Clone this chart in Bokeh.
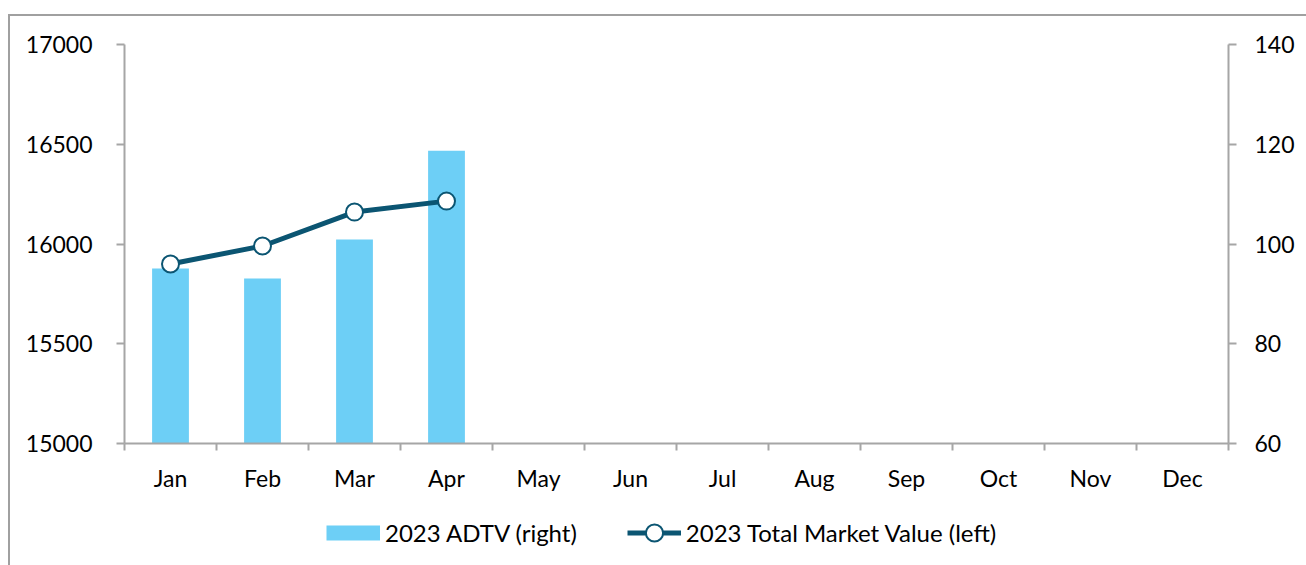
from bokeh.plotting import figure
from bokeh.layouts import column
from bokeh.models import Range1d, LinearAxis, FixedTicker, Legend, LegendItem, ColumnDataSource
from bokeh.embed import file_html
from bokeh.resources import INLINE

months = ["Jan", "Feb", "Mar", "Apr", "May", "Jun", "Jul", "Aug", "Sep", "Oct", "Nov", "Dec"]
adtv_2023 = [95.1, 93.1, 100.9, 118.7]          # right axis
market_value_2023 = [15900, 15990, 16160, 16215]  # left axis
left_ticks = [15000, 15500, 16000, 16500, 17000]
right_ticks = [60, 80, 100, 120, 140]
series_names = ["2023 ADTV (right)", "2023 Total Market Value (left)"]

FONT = "Lato"
FS = "23px"
GRID = "#a6a6a6"
BAR = "#6dcff6"
LINE = "#0b5572"

pos = list(range(1, len(months) + 1))
bar_src = ColumnDataSource(dict(x=pos[:len(adtv_2023)], top=adtv_2023))
line_src = ColumnDataSource(dict(x=pos[:len(market_value_2023)], y=market_value_2023))

W = 1296
H_MAIN = 479
H_LEG = 70

p = figure(width=W, height=H_MAIN, output_backend="svg", toolbar_location=None,
           x_range=Range1d(0.5, len(months) + 0.5), y_range=Range1d(15000, 17000),
           min_border_left=114, min_border_right=78, min_border_top=28, min_border_bottom=52,
           x_axis_type=None, y_axis_type=None)
p.outline_line_color = None
p.background_fill_color = "white"
p.border_fill_color = "white"
p.extra_y_ranges = {"right": Range1d(60, 140)}

yl = LinearAxis(ticker=FixedTicker(ticks=left_ticks))
yr = LinearAxis(y_range_name="right", ticker=FixedTicker(ticks=right_ticks))
xticker = FixedTicker(ticks=pos, minor_ticks=[i + 0.5 for i in range(0, len(months) + 1)])
xa = LinearAxis(ticker=xticker)
xa.major_label_overrides = {i: m for i, m in zip(pos, months)}
for ax in (yl, yr, xa):
    ax.axis_line_color = GRID
    ax.axis_line_width = 2
    ax.major_tick_line_color = GRID
    ax.major_tick_line_width = 2
    ax.major_tick_in = 0
    ax.major_tick_out = 8
    ax.minor_tick_line_color = None
    ax.major_label_text_font = FONT
    ax.major_label_text_font_size = FS
    ax.major_label_text_color = "black"
yl.major_label_standoff = 24
yr.major_label_standoff = 18
xa.major_tick_out = 0
xa.major_tick_line_color = None
xa.minor_tick_line_color = GRID
xa.minor_tick_line_width = 2
xa.minor_tick_in = 0
xa.minor_tick_out = 7
xa.major_label_standoff = 13
p.add_layout(yl, "left")
p.add_layout(yr, "right")
p.add_layout(xa, "below")

p.ygrid.ticker = FixedTicker(ticks=left_ticks)
p.ygrid.grid_line_color = GRID
p.ygrid.grid_line_width = 2
p.xgrid.grid_line_color = None

p.vbar(x="x", top="top", bottom=60, width=0.4, source=bar_src,
       y_range_name="right", fill_color=BAR, line_color=None)
p.line(x="x", y="y", source=line_src, line_color=LINE, line_width=5)
p.scatter(x="x", y="y", source=line_src, size=17, fill_color="white",
          line_color=LINE, line_width=2)

# legend strip (its frame is aligned with the main frame by the column layout)
lp = figure(width=W, height=H_LEG, output_backend="svg", toolbar_location=None,
            x_range=Range1d(0, 1), y_range=Range1d(0, 1),
            min_border_left=114, min_border_right=78, min_border_top=0, min_border_bottom=0,
            x_axis_type=None, y_axis_type=None)
lp.outline_line_color = None
lp.xgrid.grid_line_color = None
lp.ygrid.grid_line_color = None
# legend proxies (hidden); a thick butt-capped line renders the bar swatch
lb = lp.line(x="x", y="top", source=bar_src, line_color=BAR, line_width=15,
             line_cap="butt", visible=False)
ll = lp.line(x="x", y="y", source=line_src, line_color=LINE, line_width=5, visible=False)
lm = lp.scatter(x="x", y="y", source=line_src, size=17, fill_color="white",
                line_color=LINE, line_width=2, visible=False)
legend = Legend(items=[LegendItem(label=series_names[0], renderers=[lb]),
                       LegendItem(label=series_names[1], renderers=[ll, lm])],
                orientation="horizontal", location=(202, 11),
                glyph_width=54, glyph_height=43, label_standoff=5, spacing=50,
                padding=0, margin=0, border_line_color=None, background_fill_alpha=0,
                inactive_fill_alpha=0,
                label_text_font=FONT, label_text_font_size="24px", label_text_color="black")
lp.add_layout(legend, "center")

layout = column(p, lp, spacing=0)
layout.styles = {"margin-left": "8px", "margin-top": "14px",
                 "border-left": "2px solid #a0a0a0", "border-top": "2px solid #a0a0a0"}

open("out.html", "w").write(file_html(layout, INLINE))
